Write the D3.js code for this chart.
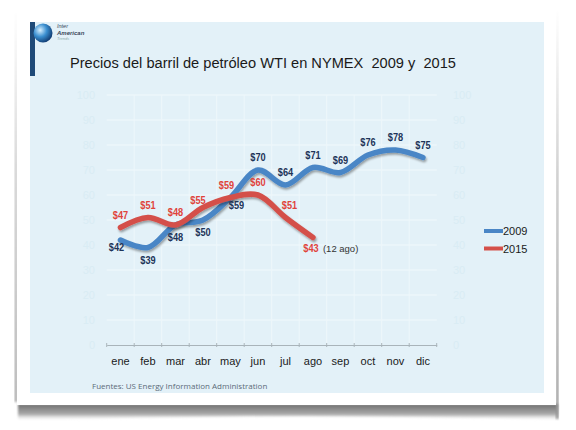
<!DOCTYPE html>
<html><head><meta charset="utf-8">
<script src="https://cdn.jsdelivr.net/npm/d3@7"></script>
<style>html,body{margin:0;padding:0;background:#fff;}svg{display:block;}</style>
</head><body>
<script>
const months = ["ene","feb","mar","abr","may","jun","jul","ago","sep","oct","nov","dic"];
const values2009 = [42,39,48,50,59,70,64,71,69,76,78,75];
const values2015 = [47,51,48,55,59,60,51,43];
const yTicks = [0,10,20,30,40,50,60,70,80,90,100];
const seriesNames = ["2009","2015"];
const titleText = "Precios del barril de petróleo WTI en NYMEX  2009 y  2015";
const sourceText = "Fuentes: US Energy Information Administration";
const lastNote = "(12 ago)";

const W = 576, H = 430;
const svg = d3.select("body").append("svg").attr("width", W).attr("height", H);
const defs = svg.append("defs");

const gB = defs.append("linearGradient").attr("id","gB").attr("x1",0).attr("y1",0).attr("x2",0).attr("y2",1);
gB.append("stop").attr("offset",0).attr("stop-color","#6f6f6f");
gB.append("stop").attr("offset",0.6).attr("stop-color","#aaaaaa");
gB.append("stop").attr("offset",1).attr("stop-color","#ffffff").attr("stop-opacity",0);
const gL = defs.append("linearGradient").attr("id","gL").attr("x1",0).attr("y1",0).attr("x2",0).attr("y2",1);
gL.append("stop").attr("offset",0).attr("stop-color","#ffffff");
gL.append("stop").attr("offset",0.4).attr("stop-color","#c0c0c0");
gL.append("stop").attr("offset",1).attr("stop-color","#909090");

const f = defs.append("filter").attr("id","sh").attr("x","-10%").attr("y","-20%").attr("width","120%").attr("height","150%");
f.append("feDropShadow").attr("dx",1).attr("dy",2).attr("stdDeviation",1.3).attr("flood-color","#000").attr("flood-opacity",0.35);
defs.append("filter").attr("id","blur").append("feGaussianBlur").attr("stdDeviation",1.2);

svg.append("path")
  .attr("d","M18,404 L558,404 L558,420 Q287,412 18,421 Z")
  .attr("fill","url(#gB)").attr("filter","url(#blur)");
svg.append("rect").attr("x",15).attr("y",10).attr("width",2).attr("height",392).attr("fill","url(#gL)").attr("filter","url(#blur)");
svg.append("rect").attr("x",556).attr("y",9).attr("width",2.5).attr("height",410).attr("fill","url(#gL)").attr("filter","url(#blur)");
svg.append("rect").attr("x",17).attr("y",9).attr("width",539).attr("height",396).attr("fill","#fff");

svg.append("rect").attr("x",30).attr("y",22).attr("width",514).attr("height",371).attr("fill","#e3f1f8");
svg.append("rect").attr("x",30).attr("y",22).attr("width",5).attr("height",54).attr("fill","#1f4a78");

const rg = defs.append("radialGradient").attr("id","globe").attr("cx","35%").attr("cy","35%").attr("r","70%");
rg.append("stop").attr("offset",0).attr("stop-color","#d8f0ff");
rg.append("stop").attr("offset",0.5).attr("stop-color","#3a8fd0");
rg.append("stop").attr("offset",1).attr("stop-color","#103a70");
svg.append("circle").attr("cx",43).attr("cy",33).attr("r",9.5).attr("fill","url(#globe)");
const logo = svg.append("g").attr("font-family","Liberation Sans, Arial, sans-serif").attr("font-style","italic").attr("fill","#3a4a5a");
logo.append("text").attr("x",57).attr("y",28).attr("font-size",5.5).text("Inter");
logo.append("text").attr("x",57).attr("y",35).attr("font-size",6).attr("font-weight","bold").text("American");
logo.append("text").attr("x",57).attr("y",40).attr("font-size",4).attr("fill","#8aa").text("Trends");

svg.append("text").attr("x",70).attr("y",68).style("white-space","pre")
  .attr("font-family","Liberation Sans, Arial, sans-serif").attr("font-size",15.5).attr("fill","#1a1a1a")
  .attr("textLength",386).attr("lengthAdjust","spacingAndGlyphs")
  .text(titleText);

const x = d3.scaleBand().domain(months).range([106.7, 436.7]);
const cx = m => x(m) + x.bandwidth()/2;
const y = d3.scaleLinear().domain([0,100]).range([345, 95]);

const grid = svg.append("g");
grid.selectAll("line.h").data(yTicks.filter(t => t > 0)).join("line")
  .attr("x1",106.7).attr("x2",436.7).attr("y1",d=>y(d)).attr("y2",d=>y(d))
  .attr("stroke","#f2f9fc").attr("stroke-width",1.2);
grid.selectAll("line.v").data(months.slice(1)).join("line")
  .attr("x1",d=>x(d)).attr("x2",d=>x(d)).attr("y1",y(100)).attr("y2",y(0))
  .attr("stroke","#eef7fb").attr("stroke-width",1);

const axStyle = g => g.call(s => s.select(".domain").remove()).call(s => s.selectAll("line").remove())
  .call(s => s.selectAll("text").attr("fill","#d9ecf4").attr("font-size",11)
  .attr("font-family","Liberation Sans, Arial, sans-serif"));
svg.append("g").attr("transform","translate(95,0)")
  .call(d3.axisLeft(y).tickValues(yTicks).tickSize(0).tickPadding(0)).call(axStyle);
svg.append("g").attr("transform","translate(453,0)")
  .call(d3.axisRight(y).tickValues(yTicks).tickSize(0).tickPadding(0)).call(axStyle);

const xa = svg.append("g").attr("transform",`translate(0,${y(0)})`)
  .call(d3.axisBottom(x).tickSize(0).tickPadding(12));
xa.select(".domain").attr("stroke","#a9b4ba");
xa.selectAll("text").attr("fill","#1a1a1a").attr("font-size",11).attr("font-family","Liberation Sans, Arial, sans-serif");
xa.selectAll(".tk").data(months.concat(["end"])).join("line").attr("class","tk")
  .attr("x1",(d,i)=>106.7 + i*x.bandwidth()).attr("x2",(d,i)=>106.7 + i*x.bandwidth())
  .attr("y1",-2).attr("y2",2).attr("stroke","#a9b4ba");

const line = d3.line().x((d,i)=>cx(months[i])).y(d=>y(d)).curve(d3.curveCatmullRom.alpha(0.5));
const colors = {"2009":"#4a86c6","2015":"#d4504a"};
svg.append("path").attr("d",line(values2009)).attr("fill","none").attr("stroke",colors["2009"])
  .attr("stroke-width",5.5).attr("stroke-linecap","round").attr("filter","url(#sh)");
svg.append("path").attr("d",line(values2015)).attr("fill","none").attr("stroke",colors["2015"])
  .attr("stroke-width",5.5).attr("stroke-linecap","round").attr("filter","url(#sh)");

const lbl = svg.append("g").attr("font-family","Liberation Sans, Arial, sans-serif")
  .attr("font-weight","bold").attr("font-size",11.5).attr("text-anchor","middle");
const condense = sel => sel.each(function(){
  const w = this.getComputedTextLength();
  d3.select(this).attr("textLength", w*0.8).attr("lengthAdjust","spacingAndGlyphs");
});
lbl.selectAll("text.a").data(values2009).join("text").attr("class","a")
  .attr("x",(d,i)=> cx(months[i]) + (i===0 ? -4 : i===4 ? 6 : 0))
  .attr("y",(d,i)=> y(d) + (i<5 ? (i===0||i===4 ? 11 : 16) : -9))
  .attr("fill","#1d3458").text(d=>"$"+d).call(condense);
const n15 = values2015.length;
lbl.selectAll("text.b").data(values2015).join("text").attr("class","b")
  .attr("x",(d,i)=> cx(months[i]) + (i===3 ? -5 : i===4 ? -4 : i===6 ? 4 : i===n15-1 ? -2 : 0))
  .attr("y",(d,i)=> y(d) + (i===n15-1 ? 14 : i===3 ? -4 : -9))
  .attr("fill","#e0433b").text(d=>"$"+d).call(condense);
svg.append("text").attr("x",cx(months[n15-1]) + 10).attr("y",y(values2015[n15-1]) + 14)
  .attr("font-family","Liberation Sans, Arial, sans-serif").attr("font-size",9.5).attr("fill","#333")
  .text(lastNote);

const lg = svg.append("g");
seriesNames.forEach((s,i)=>{
  const yy = 231 + i*17.5;
  lg.append("line").attr("x1",484).attr("x2",503).attr("y1",yy).attr("y2",yy)
    .attr("stroke",colors[s]).attr("stroke-width",4);
  lg.append("text").attr("x",503).attr("y",yy+4).attr("font-size",11)
    .attr("font-family","Liberation Sans, Arial, sans-serif").attr("fill","#1a1a1a").text(s);
});

svg.append("text").attr("x",92).attr("y",389)
  .attr("font-family","Open Sans, sans-serif").attr("font-size",8).attr("fill","#5c6b78")
  .text(sourceText);
</script>
</body></html>
